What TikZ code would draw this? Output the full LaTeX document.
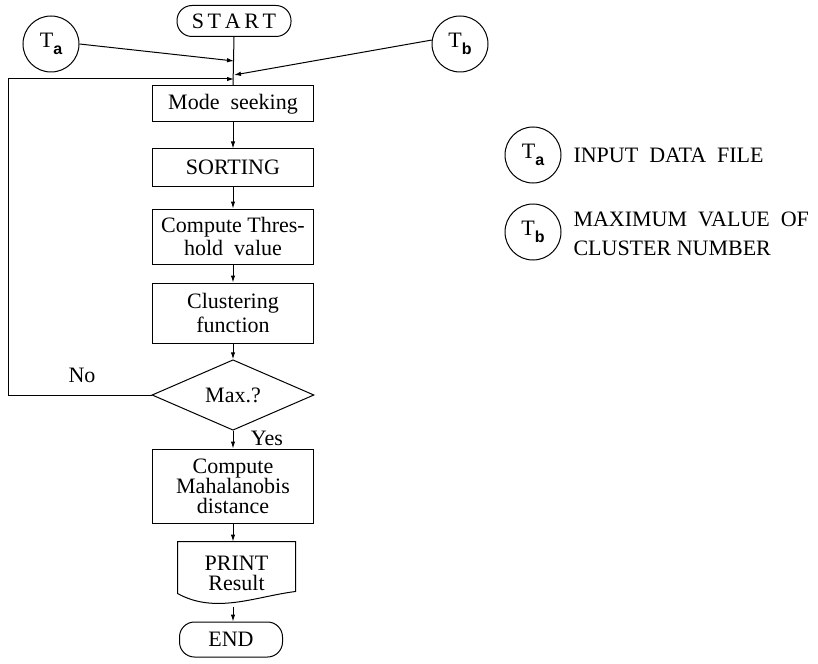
\documentclass[tikz,border=0pt]{standalone}
\usepackage{fontspec}
\setmainfont{Liberation Serif}
\newfontfamily\subsf{Liberation Sans}
\usetikzlibrary{arrows.meta,shapes.geometric}
\newcommand\Tsb[1]{T\raisebox{-0.32em}{\fontsize{16}{16}\subsf\bfseries #1}}
\begin{document}
\begin{tikzpicture}[x=1pt,y=-1pt,line width=1pt,
  txt/.style={font=\fontsize{22}{23.5}\selectfont},
  tight/.style={font=\fontsize{22}{20}\selectfont},
  box/.style={txt,draw,rectangle,minimum width=161pt,align=center,inner sep=1pt},
  term/.style={txt,draw,rectangle,rounded corners=15pt,inner sep=1pt},
  tcirc/.style={txt,draw,circle,minimum size=56pt,inner sep=0pt},
  arr/.style={-{Latex[length=7pt,width=4.5pt]}},
  lbl/.style={txt,anchor=west,inner sep=0pt}]
\useasboundingbox (0,0) rectangle (818,663);
% nodes
\node[term,minimum width=114pt,minimum height=31pt] (start) at (234,21) {S\,T\,A\,R\,T};
\node[tcirc] (ta) at (51,44) {\Tsb{a}};
\node[tcirc] (tb) at (460,44) {\Tsb{b}};
\node[box,minimum height=36pt] (mode) at (233,104) {Mode\ \ seeking};
\node[box,minimum height=37pt] (sort) at (233,167.5) {SORTING};
\node[box,minimum height=55pt] (thr) at (233,236.5) {Compute Thres-\\hold\ \ value};
\node[box,minimum height=60pt] (clu) at (233,313) {Clustering\\function};
\node[txt,draw,diamond,minimum width=162pt,minimum height=66pt,inner sep=0pt] (dia) at (233,395) {Max.?};
\node[box,tight,minimum height=74pt] (maha) at (233,486) {Compute\\Mahalanobis\\distance};
\node[tight,minimum width=117pt,minimum height=62pt,align=center,inner sep=0pt] (print) at (236.5,573) {PRINT\\Result};
\node[term,minimum width=103pt,minimum height=35pt] (end) at (231,639.5) {END};
\node[txt,inner sep=0pt] (no) at (82,375) {No};
\node[txt,inner sep=0pt] (yes) at (267,438) {Yes};
% document shape
\draw (print.north west) -- (print.north east) -- ([yshift=13pt]print.south east)
  .. controls ([xshift=-40pt,yshift=8pt]print.south east) and ([xshift=-21pt,yshift=-10pt]print.south) .. ([yshift=11pt]print.south west) -- cycle;
% legend
\node[tcirc] (lta) at (533,155) {\Tsb{a}};
\node[tcirc] (ltb) at (533,232) {\Tsb{b}};
\node[lbl] (l1) at (573,155) {INPUT\ \ DATA\ \ FILE};
\node[lbl] (l2) at (573,219) {MAXIMUM\ \ VALUE\ \ OF};
\node[lbl] (l3) at (573,248) {CLUSTER NUMBER};
% connectors
\coordinate (ja) at (start.south |- 0,61);
\coordinate (jb) at (start.south |- 0,75);
\coordinate (jf) at (start.south |- 0,79);
\coordinate (lc) at (8,79);
\draw (start.south) -- (mode.north);
\draw[arr] (ta.east) -- (ja);
\draw[arr] (tb.172) -- (jb);
\draw[arr] (dia.west) -| (lc) -- (jf);
\draw[arr] (mode.south) -- (sort.north);
\draw[arr] (sort.south) -- (thr.north);
\draw[arr] (thr.south) -- (clu.north);
\draw[arr] (clu.south) -- (dia.north);
\draw[arr] (dia.south) -- (maha.north);
\draw[arr] (maha.south) -- (maha.south |- print.north);
\draw[arr] ([yshift=-2pt]maha.south |- print.south) -- (maha.south |- end.north);
\end{tikzpicture}
\end{document}
